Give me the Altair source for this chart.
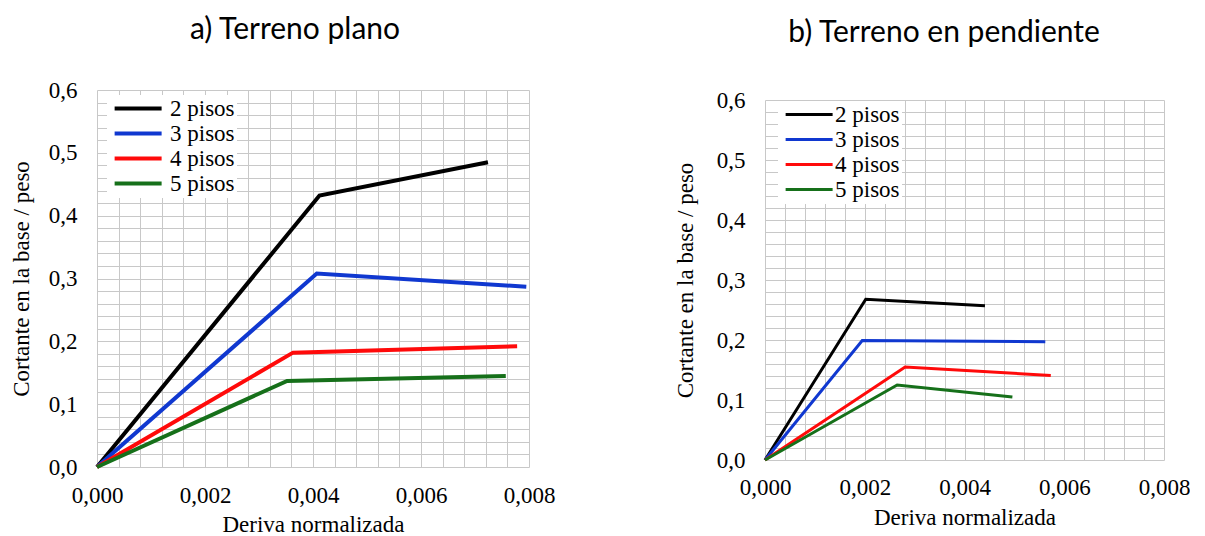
import altair as alt
import pandas as pd

series = ["2 pisos", "3 pisos", "4 pisos", "5 pisos"]
colors = ["#000000", "#1038d0", "#ff0a0a", "#16701a"]

# a) Terreno plano
plano_x = {
    "2 pisos": [0.0, 0.00412, 0.00724],
    "3 pisos": [0.0, 0.00407, 0.00795],
    "4 pisos": [0.0, 0.00363, 0.00778],
    "5 pisos": [0.0, 0.00352, 0.00757],
}
plano_y = {
    "2 pisos": [0.0, 0.432, 0.485],
    "3 pisos": [0.0, 0.308, 0.287],
    "4 pisos": [0.0, 0.182, 0.192],
    "5 pisos": [0.0, 0.137, 0.145],
}

# b) Terreno en pendiente
pend_x = {
    "2 pisos": [0.0, 0.00202, 0.00441],
    "3 pisos": [0.0, 0.00195, 0.00562],
    "4 pisos": [0.0, 0.00281, 0.00573],
    "5 pisos": [0.0, 0.00265, 0.00496],
}
pend_y = {
    "2 pisos": [0.0, 0.268, 0.257],
    "3 pisos": [0.0, 0.199, 0.197],
    "4 pisos": [0.0, 0.155, 0.141],
    "5 pisos": [0.0, 0.125, 0.105],
}

x_ticks = [round(i * 0.0004, 4) for i in range(21)]
y_ticks = [round(i * 0.02, 2) for i in range(31)]

x_title = "Deriva normalizada"
y_title = "Cortante en la base / peso"

SERIF = "Liberation Serif"
FS = 23


def make_df(xs, ys):
    rows = []
    for s in series:
        for i, (xv, yv) in enumerate(zip(xs[s], ys[s])):
            rows.append({"serie": s, "idx": i, "x": xv, "y": yv})
    return pd.DataFrame(rows)


def title_params(text, offset, dx):
    return alt.TitleParams(
        text=text,
        font="Lato",
        fontSize=30,
        fontWeight="normal",
        color="black",
        offset=offset,
        dx=dx,
        anchor="middle",
    )


def panel(df, w, h, sw, ytp, xlp, xtp, lx, ly, rp, lo):
    return (
        alt.Chart(df)
        .mark_line(strokeWidth=sw, strokeJoin="miter")
        .encode(
            x=alt.X(
                "x:Q",
                scale=alt.Scale(domain=[0, 0.008], nice=False, zero=False),
                axis=alt.Axis(
                    values=x_ticks,
                    labelExpr="abs(round(datum.value*500) - datum.value*500) < 0.001 ? replace(format(datum.value, '.3f'), '.', ',') : ''",
                    title=x_title,
                    grid=True,
                    ticks=False,
                    domain=False,
                    labelFlush=False,
                    labelOverlap=False,
                    labelPadding=xlp,
                    titlePadding=xtp,
                ),
            ),
            y=alt.Y(
                "y:Q",
                scale=alt.Scale(domain=[0, 0.6], nice=False),
                axis=alt.Axis(
                    values=y_ticks,
                    labelExpr="abs(round(datum.value*10) - datum.value*10) < 0.001 ? replace(format(datum.value, '.1f'), '.', ',') : ''",
                    title=y_title,
                    grid=True,
                    ticks=False,
                    domain=False,
                    labelOverlap=False,
                    labelPadding=20,
                    titlePadding=ytp,
                ),
            ),
            color=alt.Color(
                "serie:N",
                scale=alt.Scale(domain=series, range=colors),
                legend=alt.Legend(
                    title=None,
                    orient="none",
                    legendX=lx,
                    legendY=ly,
                    direction="vertical",
                    symbolType="M-1,0H7",
                    symbolSize=138,
                    symbolStrokeWidth=sw,
                    labelOffset=lo,
                    labelFont=SERIF,
                    labelFontSize=FS,
                    labelColor="black",
                    fillColor="white",
                    padding=2,
                    rowPadding=rp,
                ),
            ),
            order="idx:Q",
        )
        .properties(width=w, height=h)
    )


left = panel(make_df(plano_x, plano_y), 432, 377, 4, 15, 17, 6, 10, 5, 1, 38).properties(
    title=title_params("a) Terreno plano", 34, -18)
)
right_plot = panel(make_df(pend_x, pend_y), 399, 360, 3, 19, 16, 7, 13, 11, 1, 32)

spacer = (
    alt.Chart(pd.DataFrame({"v": [0]}))
    .mark_point(opacity=0)
    .encode(x=alt.X("v:Q", axis=None), y=alt.Y("v:Q", axis=None))
    .properties(width=1, height=1)
)

right = alt.vconcat(spacer, right_plot, spacing=9, bounds="flush").properties(
    title=title_params("b) Terreno en pendiente", 40, 12)
)

chart = (
    alt.hconcat(left, right, spacing=119)
    .resolve_scale(color="independent")
    .resolve_legend(color="independent")
    .properties(padding={"left": 2, "top": 7, "right": 0, "bottom": 0})
    .configure_view(stroke=None)
    .configure_axis(
        labelFont=SERIF,
        labelFontSize=FS,
        labelColor="black",
        titleFont=SERIF,
        titleFontSize=FS,
        titleFontWeight="normal",
        titleColor="black",
        gridColor="#c8c8c8",
        gridWidth=1,
    )
)

chart.save("out.html", embed_options={"renderer": "svg", "actions": False})
